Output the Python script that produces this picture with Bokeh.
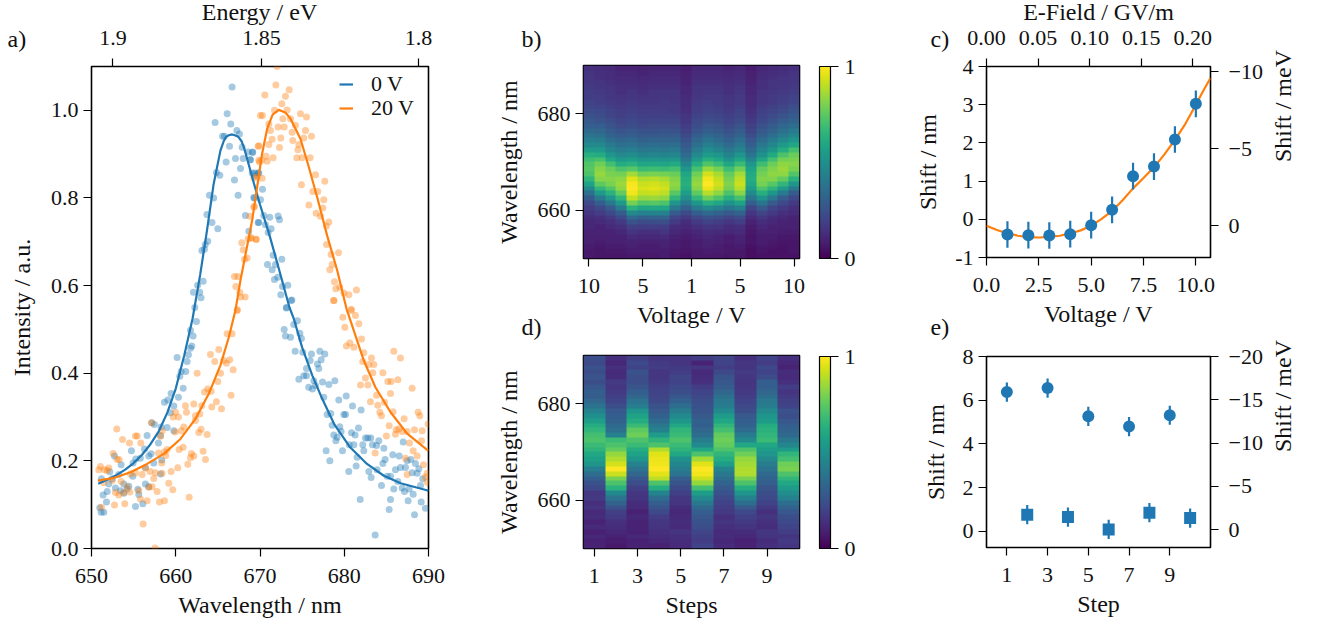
from math import pi
import numpy as np
from bokeh.embed import file_html
from bokeh.resources import INLINE
from bokeh.plotting import figure
from bokeh.layouts import row, column
from bokeh.models import (Range1d, LinearAxis, FixedTicker, Label, Legend, LegendItem,
                          LinearColorMapper, ColorBar)
from bokeh.palettes import Viridis256

# ---------- panel a ----------
blue_wavelength = [666.69,666.1,664.67,666.53,667.25,667.56,665.55,665.78,666.38,667.88,668.59,669.1,667.09,668.0,668.83,665.98,667.68,664.83,665.23,669.38,669.78,666.97,664.0,664.5,667.4,669.26,663.7,664.3,668.27,669.78,664.99,668.67,663.8,663.5,663.1,663.4,663.25,662.6,662.1,662.85,663.0,662.26,
669.15,668.87,669.86,669.07,669.46,670.3,670.06,669.34,670.45,671.16,672.15,672.31,669.86,670.65,671.32,670.97,671.56,672.59,670.89,671.84,671.44,671.72,672.11,673.3,672.67,672.47,673.78,673.14,
673.7,673.14,674.45,674.01,672.87,674.73,673.02,673.62,674.92,674.17,675.08,677.1,677.69,676.11,677.26,675.95,676.82,676.98,675.52,675.2,675.52,674.61,676.39,677.42,678.17,678.88,676.59,675.79,676.23,677.57,679.35,680.23,680.98,682.0,677.97,678.4,679.95,680.15,678.56,679.47,681.69,679.63,680.86,681.29,678.76,679.0,679.16,682.52,682.8,683.15,684.1,682.2,681.14,680.6,683.35,683.83,687.0,684.7,682.32,679.79,677.85,678.29,681.53,681.41,680.54,685.76,686.52,684.85,684.58,683.9,682.92,683.19,687.47,687.9,688.45,687.27,686.67,686.08,688.85,688.06,688.65,685.09,685.49,689.32,684.42,686.36,685.88,686.87,687.15,687.7,688.18,689.05,685.49,687.58,689.13,681.89,685.33,689.64,688.34,683.67,
662.46,661.75,662.06,661.9,661.75,661.51,661.35,660.16,660.64,661.19,660.48,660.88,659.45,660.32,659.06,658.66,659.77,659.37,657.47,657.16,658.26,658.98,659.77,658.19,656.6,657.95,656.29,654.74,652.73,653.52,657.08,656.8,655.8,655.26,657.39,658.34,654.94,656.4,658.19,652.17,651.18,654.9,653.24,652.45,652.05,653.83,651.86,651.38,652.84,653.44,654.43,656.4,654.23,653.83,655.5,656.8,655.61,651.78,656.09,655.22,650.98,651.46,651.14]
blue_intensity = [1.053,0.992,0.972,0.969,0.954,0.946,0.941,0.941,0.918,0.916,0.905,0.905,0.89,0.89,0.887,0.882,0.867,0.858,0.852,0.857,0.857,0.841,0.806,0.8,0.806,0.801,0.762,0.744,0.76,0.744,0.73,0.724,0.701,0.694,0.68,0.683,0.61,0.601,0.585,0.585,0.572,0.55,
0.904,0.887,0.857,0.857,0.852,0.82,0.796,0.8,0.76,0.756,0.759,0.75,0.744,0.739,0.73,0.721,0.669,0.66,0.648,0.648,0.636,0.614,0.619,0.601,0.598,0.579,0.567,0.55,
0.566,0.549,0.52,0.511,0.5,0.491,0.485,0.482,0.479,0.45,0.448,0.45,0.444,0.444,0.431,0.429,0.421,0.411,0.411,0.394,0.394,0.386,0.383,0.38,0.374,0.383,0.372,0.368,0.364,0.345,0.339,0.348,0.325,0.316,0.306,0.308,0.306,0.306,0.281,0.278,0.275,0.267,0.264,0.259,0.259,0.246,0.254,0.252,0.252,0.252,0.246,0.237,0.237,0.237,0.237,0.235,0.243,0.229,0.223,0.223,0.223,0.2,0.208,0.188,0.176,0.214,0.211,0.203,0.194,0.18,0.176,0.162,0.2,0.203,0.194,0.185,0.185,0.18,0.182,0.173,0.172,0.165,0.165,0.159,0.144,0.153,0.136,0.138,0.13,0.136,0.124,0.144,0.112,0.109,0.106,0.112,0.089,0.092,0.077,0.031,
0.518,0.498,0.485,0.462,0.457,0.442,0.427,0.436,0.404,0.404,0.393,0.366,0.354,0.345,0.339,0.334,0.325,0.31,0.283,0.287,0.277,0.276,0.269,0.258,0.258,0.241,0.227,0.223,0.211,0.191,0.216,0.211,0.206,0.204,0.195,0.202,0.195,0.185,0.17,0.175,0.159,0.165,0.169,0.159,0.147,0.147,0.13,0.122,0.138,0.132,0.142,0.147,0.136,0.126,0.135,0.141,0.123,0.106,0.102,0.096,0.093,0.083,0.083]
orange_wavelength = [670.05,669.78,669.86,669.26,669.66,669.26,668.79,668.59,668.95,669.54,667.84,668.0,668.16,668.47,666.97,667.36,667.13,667.6,667.68,668.24,667.3,
672.04,671.88,673.46,670.57,673.02,672.59,671.72,673.22,670.29,674.8,675.52,672.71,673.62,671.05,674.21,671.24,672.15,672.87,675.4,673.82,675.2,676.11,671.44,672.47,673.89,671.05,669.86,674.61,672.31,674.49,671.56,674.37,675.0,675.95,670.73,670.85,669.94,670.18,676.59,670.25,677.69,674.92,676.27,676.86,677.57,669.34,675.8,677.46,676.66,677.18,678.17,677.89,668.95,669.54,677.89,678.44,679.32,678.56,678.29,678.84,679.47,679.0,681.45,679.95,680.54,678.76,680.82,
678.76,680.86,681.33,679.83,681.73,680.07,682.05,680.66,680.26,681.14,682.32,685.88,686.67,683.23,682.2,682.92,683.51,683.39,684.58,682.52,685.17,685.57,686.36,681.93,682.8,688.06,685.49,683.83,684.78,683.11,683.98,685.8,684.22,684.42,688.77,688.97,687.11,685.33,689.96,686.16,686.48,686.87,687.47,688.34,689.25,685.0,686.08,689.17,687.74,683.67,688.18,688.65,687.27,689.4,687.47,689.84,689.64,689.84,
667.29,666.1,666.69,664.12,665.11,664.63,665.7,666.41,666.02,666.81,662.54,665.31,664.99,663.8,663.41,666.57,664.2,664.83,664.28,665.43,661.15,662.14,663.09,661.27,659.97,660.32,659.69,662.34,662.85,662.34,657.12,653.0,660.96,660.64,659.93,663.01,662.74,663.72,658.38,653.68,655.22,655.42,658.19,654.51,655.85,652.57,653.28,653.04,660.88,660.4,658.98,658.66,657.95,663.25,661.86,662.14,661.75,663.53,658.82,658.34,661.43,660.24,659.45,656.4,656.96,651.06,652.05,651.54,650.87,651.86,654.62,656.01,655.22,657.59,658.38,657.39,652.45,651.46,653.52,659.17,657.19,656.8,659.65,657.79,652.84,653.24,654.23,653.83,654.55,655.61,655.81,656.6,658.07,658.66,661.59,652.73,653.95,651.18,656.13,657.55]
orange_intensity = [0.988,0.918,0.886,0.846,0.848,0.779,0.758,0.707,0.709,0.706,0.698,0.682,0.66,0.663,0.621,0.621,0.598,0.585,0.574,0.574,0.545,
1.1,1.058,1.047,1.035,1.032,1.015,1.0,1.001,0.988,0.992,0.985,0.981,0.981,0.969,0.966,0.954,0.962,0.962,0.954,0.95,0.937,0.941,0.934,0.937,0.931,0.922,0.919,0.922,0.915,0.91,0.892,0.892,0.892,0.892,0.895,0.884,0.882,0.886,0.853,0.845,0.838,0.83,0.815,0.815,0.796,0.781,0.784,0.777,0.765,0.758,0.745,0.736,0.708,0.705,0.694,0.671,0.675,0.648,0.636,0.609,0.597,0.593,0.59,0.583,0.579,0.566,0.546,
0.566,0.543,0.532,0.528,0.513,0.505,0.478,0.469,0.462,0.459,0.447,0.45,0.435,0.435,0.427,0.42,0.42,0.401,0.401,0.389,0.381,0.381,0.385,0.373,0.373,0.366,0.354,0.35,0.334,0.335,0.327,0.312,0.311,0.303,0.311,0.303,0.296,0.28,0.284,0.271,0.273,0.267,0.267,0.271,0.269,0.257,0.261,0.246,0.241,0.218,0.223,0.211,0.206,0.191,0.169,0.172,0.163,0.151,
0.543,0.49,0.49,0.443,0.454,0.427,0.429,0.431,0.423,0.408,0.4,0.4,0.381,0.364,0.357,0.35,0.359,0.335,0.323,0.319,0.326,0.33,0.326,0.311,0.311,0.3,0.3,0.303,0.307,0.292,0.287,0.273,0.277,0.269,0.266,0.272,0.265,0.26,0.269,0.249,0.257,0.257,0.256,0.241,0.241,0.217,0.203,0.203,0.231,0.226,0.226,0.22,0.218,0.222,0.217,0.211,0.207,0.203,0.212,0.195,0.192,0.184,0.176,0.183,0.176,0.187,0.184,0.18,0.18,0.178,0.17,0.169,0.173,0.173,0.172,0.16,0.155,0.15,0.153,0.149,0.141,0.14,0.134,0.13,0.128,0.122,0.141,0.128,0.129,0.132,0.113,0.109,0.106,0.109,0.117,0.099,0.102,0.094,0.056,0.001]
fit_blue_x = [650.8,652,653,654,655,656,657,658,659,660,661,662,662.9,663.7,664.5,665.3,665.7,666,666.3,666.7,667,667.4,667.8,668.1,669.3,670,671.2,672.4,673.5,674,675,676.2,677.4,678.8,680.7,682.7,684.7,686.7,689.8,690]
fit_blue_y = [.148,.158,.168,.18,.195,.214,.238,.268,.31,.365,.44,.525,.625,.725,.832,.908,.93,.94,.943,.945,.943,.94,.93,.915,.832,.785,.71,.627,.55,.525,.459,.395,.341,.284,.231,.193,.166,.149,.133,.131]
fit_orange_x = [650.75,652.65,654.62,656.6,658.58,660.56,662.34,663.92,665.3,666.3,667.1,667.68,669.07,669.66,670.25,670.85,671.5,672.23,673,673.62,674.8,675.8,676.78,677.97,679.16,680.27,680.74,682.32,683.7,685.5,687.47,689.84,690]
fit_orange_y = [.155,.161,.174,.193,.216,.25,.296,.353,.418,.482,.545,.612,.749,.825,.901,.958,.99,1.001,.995,.981,.935,.87,.802,.714,.635,.547,.52,.429,.368,.311,.262,.225,.223]
legend_labels = ["0 V", "20 V"]
energy_ticks_nm = [652.55, 670.18, 688.80]
energy_labels = ["1.9", "1.85", "1.8"]

# ---------- panel b: one list per voltage step, 650 nm to 689 nm, intensity in percent ----------
b_cols = [
[7,7,8,9,9,10,11,11,13,15,18,22,28,37,48,58,66,72,74,73,69,63,55,48,43,38,34,30,28,25,23,21,20,18,18,17,16,16,15,14],
[6,6,7,8,9,10,10,12,14,18,22,30,41,54,66,75,82,84,82,78,71,62,54,47,42,37,33,30,26,24,22,20,18,18,17,16,15,14,14,13],
[6,7,8,9,9,10,12,14,17,22,29,40,52,64,73,80,82,80,77,70,60,52,46,41,36,32,29,26,24,21,20,18,17,16,16,15,14,13,13,12],
[6,7,8,9,9,11,14,17,22,29,41,54,66,76,83,85,83,79,72,62,54,47,42,37,33,29,26,23,21,19,18,17,16,15,14,14,13,12,11,10],
[7,8,9,10,12,15,19,25,34,48,64,79,91,98,100,99,95,86,74,64,56,49,43,38,34,30,27,24,22,20,19,18,17,16,15,14,13,12,11,10],
[7,8,8,9,11,14,18,23,31,44,59,73,84,91,94,92,88,79,68,59,52,45,40,35,31,28,25,22,20,19,18,17,16,15,14,13,12,11,10,9],
[7,8,8,9,11,14,18,24,32,45,60,74,85,92,95,93,89,80,69,60,52,46,40,36,32,28,25,23,21,19,18,17,16,15,15,14,13,12,11,10],
[8,8,9,10,12,15,18,24,32,44,59,72,83,90,93,91,87,79,68,59,52,45,40,35,32,28,26,23,21,19,18,17,17,16,15,14,13,12,11,10],
[6,7,8,8,9,11,13,17,21,29,40,52,65,74,81,83,81,77,70,61,53,46,41,36,32,29,25,23,21,19,17,17,16,15,15,14,13,12,11,10],
[5,6,7,7,8,9,11,13,17,22,31,40,49,56,61,63,62,59,53,46,40,35,31,28,25,22,20,18,16,15,14,13,13,12,11,11,10,10,9,8],
[7,7,8,8,10,11,14,17,22,30,41,53,66,75,82,84,82,78,71,62,54,47,42,37,33,30,26,24,22,20,18,18,17,16,15,15,14,13,12,11],
[7,8,9,10,11,13,16,20,25,34,48,63,78,89,97,100,98,93,84,73,63,55,49,43,38,34,30,27,24,22,20,19,18,17,16,15,14,13,12,11],
[7,8,8,9,10,12,15,18,24,32,44,59,72,83,90,93,91,87,79,68,59,52,45,40,35,32,28,26,23,21,19,18,17,17,16,15,14,13,12,11],
[6,7,7,8,8,11,13,16,21,28,39,51,63,72,79,81,79,76,69,59,51,45,40,35,31,28,25,22,20,19,17,16,16,15,14,14,13,12,11,10],
[7,7,8,9,10,12,14,18,23,32,44,58,71,82,89,92,90,86,78,68,59,52,45,40,36,32,29,26,23,21,20,18,17,17,16,15,14,13,12,11],
[4,4,5,6,6,7,8,10,12,16,21,30,39,48,55,60,62,61,58,52,45,39,34,30,27,24,21,19,17,15,14,13,12,12,11,11,10,9,9,8],
[5,6,7,8,8,9,11,13,16,21,28,39,51,63,72,79,81,79,76,69,59,51,45,40,35,31,28,25,22,20,19,17,16,16,15,14,14,13,12,11],
[5,5,6,7,8,9,9,11,13,17,21,29,40,53,65,74,81,83,81,77,70,61,53,46,41,36,32,29,25,23,21,19,17,17,16,15,15,14,13,12],
[5,5,5,6,7,8,9,10,11,14,17,22,29,41,54,66,76,83,85,83,79,72,62,54,47,42,37,33,29,26,23,21,19,18,17,16,15,15,14,13],
[5,6,6,6,7,8,9,9,10,12,14,17,22,29,40,52,64,73,80,82,80,77,70,60,52,46,41,36,32,29,26,24,21,20,18,17,16,16,15,14],
]
# ---------- panel d: one list per step, 650 nm to 689 nm ----------
d_cols = [
[10,9,11,9,12,10,13,12,15,14,17,16,22,25,30,36,43,52,57,60,65,68,72,70,66,62,56,50,44,38,33,29,30,27,24,26,24,25,22,24],
[7,8,9,11,13,14,17,19,25,32,38,48,64,72,80,92,100,93,88,84,76,72,68,44,37,34,31,30,28,24,20,19,17,16,17,13,12,14,11,14],
[10,9,11,9,10,10,11,9,12,13,15,16,19,24,27,33,38,44,52,58,62,68,72,78,75,68,62,58,52,42,38,33,30,26,24,24,25,20,22,19],
[9,11,13,14,15,16,18,22,26,30,36,45,62,72,90,96,100,98,97,95,88,72,65,55,44,40,35,31,28,25,22,21,20,19,17,16,16,18,17,15],
[12,13,14,15,12,13,12,11,13,15,16,19,22,26,30,38,42,46,50,60,65,68,72,68,66,60,53,48,42,36,31,27,24,22,20,21,18,17,15,16],
[20,18,19,21,24,25,27,30,34,40,48,56,70,84,92,98,100,95,86,72,60,48,42,36,33,30,31,28,26,25,24,22,20,18,14,13,12,16,10,18],
[12,11,13,12,14,15,14,17,18,20,22,25,28,32,36,40,45,56,62,66,72,76,78,76,70,66,60,55,48,42,40,37,33,29,27,26,22,18,20,21],
[10,9,11,13,15,17,19,22,28,36,44,52,62,72,80,88,88,86,84,78,72,60,48,42,35,32,30,28,24,22,20,18,17,16,15,16,17,15,16,14],
[14,13,15,16,13,14,16,14,17,20,22,24,26,30,32,34,38,42,47,52,56,60,68,66,64,62,55,52,48,42,40,36,33,30,30,23,20,22,18,20],
[16,17,15,18,20,22,24,27,32,36,44,49,55,60,66,72,80,78,70,66,55,46,40,34,32,30,27,24,25,20,19,17,15,18,14,12,13,10,11,14],
]
voltage_ticks = [0.5, 5.5, 10.0, 14.5, 19.5]
voltage_labels = ["10", "5", "1", "5", "10"]
step_ticks = [1, 3, 5, 7, 9]

# ---------- panel c ----------
c_voltage = [1,2,3,4,5,6,7,8,9,10]
c_shift = [-.398,-.415,-.424,-.389,-.154,.248,1.129,1.382,2.089,3.023]
c_err = [.35,.35,.35,.35,.35,.35,.35,.35,.35,.35]
c_fit_x = [0,.5,1,1.5,2,2.5,3,3.5,4,4.5,5,5.5,6,6.5,7,7.5,8,8.5,9,9.5,10,10.35,10.7]
c_fit_y = [-.17,-.28,-.37,-.43,-.465,-.476,-.46,-.43,-.37,-.29,-.17,.01,.22,.5,.81,1.08,1.36,1.7,2.08,2.5,3.0,3.36,3.7]

# ---------- panel e ----------
e_odd_step = [1,3,5,7,9]
e_odd_shift = [6.37,6.555,5.26,4.79,5.31]
e_even_step = [2,4,6,8,10]
e_even_shift = [.76,.65,.08,.85,.6]
e_err = [.44,.44,.44,.44,.44]

BLUE = "#1f77b4"
ORANGE = "#ff7f0e"
INK = "#111111"
FONT = "Liberation Serif"
TICK = "22px"
LAB = "24px"


def mk(w, h, l, r, t, b, xr, yr, **kw):
    p = figure(width=w, height=h, x_range=xr, y_range=yr, output_backend="svg",
               toolbar_location=None, min_border_left=l, min_border_right=r,
               min_border_top=t, min_border_bottom=b, background_fill_color="white", **kw)
    p.grid.visible = False
    p.outline_line_color = "black"
    p.outline_line_width = 1.6
    p.outline_line_alpha = 1
    return p


def style(ax, label=None, standoff=6, tick_gap=5):
    ax.major_label_text_font = FONT
    ax.major_label_text_font_size = TICK
    ax.major_label_text_color = INK
    ax.axis_label_text_font = FONT
    ax.axis_label_text_font_size = LAB
    ax.axis_label_text_font_style = "normal"
    ax.axis_label_text_color = INK
    ax.axis_label_standoff = standoff
    ax.major_tick_in = 0
    ax.major_tick_out = 8
    ax.minor_tick_line_color = None
    ax.major_tick_line_color = "black"
    ax.major_tick_line_width = 1.2
    ax.axis_line_color = None
    ax.major_label_standoff = tick_gap
    if label:
        ax.axis_label = label


def rotlabel(p, text, x, y):
    p.add_layout(Label(x=x, y=y, x_units="screen", y_units="screen", text=text, angle=pi / 2,
                       text_font=FONT, text_font_size=LAB, text_color=INK,
                       text_align="center", text_baseline="middle"))


# panel a ---------------------------------------------------------
pa = mk(480, 626, 91, 52, 66, 78, Range1d(650, 690), Range1d(0, 1.1))
s1 = pa.scatter(blue_wavelength, blue_intensity, size=7, color=BLUE, alpha=.4, line_color=None)
s2 = pa.scatter(orange_wavelength, orange_intensity, size=7, color=ORANGE, alpha=.4, line_color=None)
l1 = pa.line(fit_blue_x, fit_blue_y, color=BLUE, line_width=2.2)
l2 = pa.line(fit_orange_x, fit_orange_y, color=ORANGE, line_width=2.2)
style(pa.xaxis[0], "Wavelength / nm", 6, 12)
pa.xaxis[0].ticker = FixedTicker(ticks=[650, 660, 670, 680, 690])
style(pa.yaxis[0], "Intensity / a.u.", 13, 5)
pa.yaxis[0].ticker = FixedTicker(ticks=[0, .2, .4, .6, .8, 1.0])
pa.yaxis[0].major_label_overrides = {0: "0.0", 1: "1.0"}
top = LinearAxis(ticker=FixedTicker(ticks=energy_ticks_nm),
                 major_label_overrides=dict(zip(energy_ticks_nm, energy_labels)))
style(top, None, 5, 14)
pa.add_layout(top, "above")
for name, line, ly in ((legend_labels[0], l1, 447), (legend_labels[1], l2, 423)):
    pa.add_layout(Legend(items=[LegendItem(label=name, renderers=[line])],
                         location=(244, ly), background_fill_alpha=0, border_line_alpha=0,
                         label_text_font=FONT, label_text_font_size=TICK, label_text_color=INK,
                         glyph_width=14, glyph_height=14, label_standoff=18, padding=4, margin=0))


# heat maps --------------------------------------------------------
def heat(cols, x0, x1, h, t, b, xlabel, ticks, overrides):
    m = LinearColorMapper(palette=Viridis256, low=0, high=100)
    p = mk(425, h, 103, 106, t, b, Range1d(x0, x1), Range1d(650, 690))
    arr = np.array(cols, dtype=float).T
    p.image(image=[arr], x=x0, y=650, dw=x1 - x0, dh=40, color_mapper=m)
    style(p.xaxis[0], xlabel, 6, 12)
    p.xaxis[0].ticker = FixedTicker(ticks=ticks)
    if overrides:
        p.xaxis[0].major_label_overrides = overrides
    style(p.yaxis[0], "Wavelength / nm", 13, 5)
    p.yaxis[0].ticker = FixedTicker(ticks=[660, 680])
    cb = ColorBar(color_mapper=LinearColorMapper(palette=Viridis256, low=0, high=1),
                  location=(236, 0), width=11, height=192, padding=0, margin=0,
                  ticker=FixedTicker(ticks=[0, 1]), major_label_text_font=FONT,
                  major_label_text_font_size=TICK, major_label_text_color=INK,
                  major_tick_line_color="black", major_tick_in=0, major_tick_out=8,
                  bar_line_color="black", bar_line_width=1.2, border_line_color=None,
                  background_fill_color=None, minor_tick_line_color=None, label_standoff=6)
    p.add_layout(cb, "center")
    return p


pb = heat(b_cols, 0, 20, 340, 65, 82, "Voltage / V", voltage_ticks,
          dict(zip(voltage_ticks, voltage_labels)))
rotlabel(pb, "Intensity / arb. u.", 295, 100)

pd_ = heat(d_cols, .5, 10.5, 286, 15, 78, "Steps", step_ticks, None)
rotlabel(pd_, "Intensity / arb. u.", 295, 100)

# panel c ----------------------------------------------------------
pc = mk(413, 340, 81, 108, 66, 83, Range1d(0, 10.7), Range1d(-1, 4),
        extra_x_ranges={"field": Range1d(0, .2172)},
        extra_y_ranges={"mev": Range1d(2.056, -10.35)})
pc.line(c_fit_x, c_fit_y, color=ORANGE, line_width=2.2)
pc.segment(c_voltage, [a - b for a, b in zip(c_shift, c_err)],
           c_voltage, [a + b for a, b in zip(c_shift, c_err)], color=BLUE, line_width=2.2)
pc.scatter(c_voltage, c_shift, size=12, color=BLUE, line_color=None)
style(pc.xaxis[0], "Voltage / V", 6, 12)
pc.xaxis[0].ticker = FixedTicker(ticks=[0, 2.5, 5, 7.5, 10])
pc.xaxis[0].major_label_overrides = {0: "0.0", 2.5: "2.5", 5: "5.0", 7.5: "7.5", 10: "10.0"}
style(pc.yaxis[0], "Shift / nm", 11, 5)
pc.yaxis[0].ticker = FixedTicker(ticks=[-1, 0, 1, 2, 3, 4])
pc.yaxis[0].major_label_overrides = {-1: "-1"}
field_ticks = [0, .05, .10, .15, .20]
topc = LinearAxis(x_range_name="field", ticker=FixedTicker(ticks=field_ticks),
                  major_label_overrides={t: f"{t:.2f}" for t in field_ticks})
style(topc, None, 5, 14)
pc.add_layout(topc, "above")
rc = LinearAxis(y_range_name="mev", ticker=FixedTicker(ticks=[-10, -5, 0]),
                major_label_overrides={-10: "\u221210", -5: "\u22125", 0: "0"})
style(rc, "Shift / meV", 17, 10)
rc.axis_label_orientation = pi / 2
pc.add_layout(rc, "right")

# panel e ----------------------------------------------------------
pe = mk(413, 286, 81, 108, 16, 79, Range1d(0, 11), Range1d(-.745, 8),
        extra_y_ranges={"mev": Range1d(2.07, -20)})
pe.segment(e_odd_step, [a - b for a, b in zip(e_odd_shift, e_err)],
           e_odd_step, [a + b for a, b in zip(e_odd_shift, e_err)], color=BLUE, line_width=2.2)
pe.segment(e_even_step, [a - b for a, b in zip(e_even_shift, e_err)],
           e_even_step, [a + b for a, b in zip(e_even_shift, e_err)], color=BLUE, line_width=2.2)
pe.scatter(e_odd_step, e_odd_shift, size=12, color=BLUE, line_color=None)
pe.scatter(e_even_step, e_even_shift, size=12, marker="square", color=BLUE, line_color=None)
style(pe.xaxis[0], "Step", 6, 12)
pe.xaxis[0].ticker = FixedTicker(ticks=step_ticks)
style(pe.yaxis[0], "Shift / nm", 11, 5)
pe.yaxis[0].ticker = FixedTicker(ticks=[0, 2, 4, 6, 8])
re = LinearAxis(y_range_name="mev", ticker=FixedTicker(ticks=[-20, -15, -10, -5, 0]),
                major_label_overrides={-20: "\u221220", -15: "\u221215", -10: "\u221210", -5: "\u22125", 0: "0"})
style(re, "Shift / meV", 17, 10)
re.axis_label_orientation = pi / 2
pe.add_layout(re, "right")

# transparent sheet over the whole page, only for the panel tags and the two top titles
sheet = figure(width=1318, height=626, x_range=Range1d(0, 1318), y_range=Range1d(626, 0),
               output_backend="svg", toolbar_location=None, x_axis_location=None,
               y_axis_location=None, min_border=0, margin=(-626, 0, 0, 0),
               background_fill_color=None, border_fill_color=None, outline_line_color=None)
sheet.grid.visible = False
for text, x, y, align in (("a)", 7, 38, "left"), ("b)", 521, 38, "left"), ("c)", 930, 38, "left"),
                          ("d)", 521, 326, "left"), ("e)", 930, 326, "left"),
                          ("Energy / eV", 259, 11, "center"), ("E-Field / GV/m", 1098, 11, "center")):
    sheet.add_layout(Label(x=x, y=y, text=text, text_font=FONT, text_font_size=LAB, text_color=INK,
                           text_align=align, text_baseline="middle"))

page = column(row(pa, column(pb, pd_, spacing=0), column(pc, pe, spacing=0), spacing=0),
              sheet, spacing=0)
open("out.html", "w").write(file_html(page, INLINE))
